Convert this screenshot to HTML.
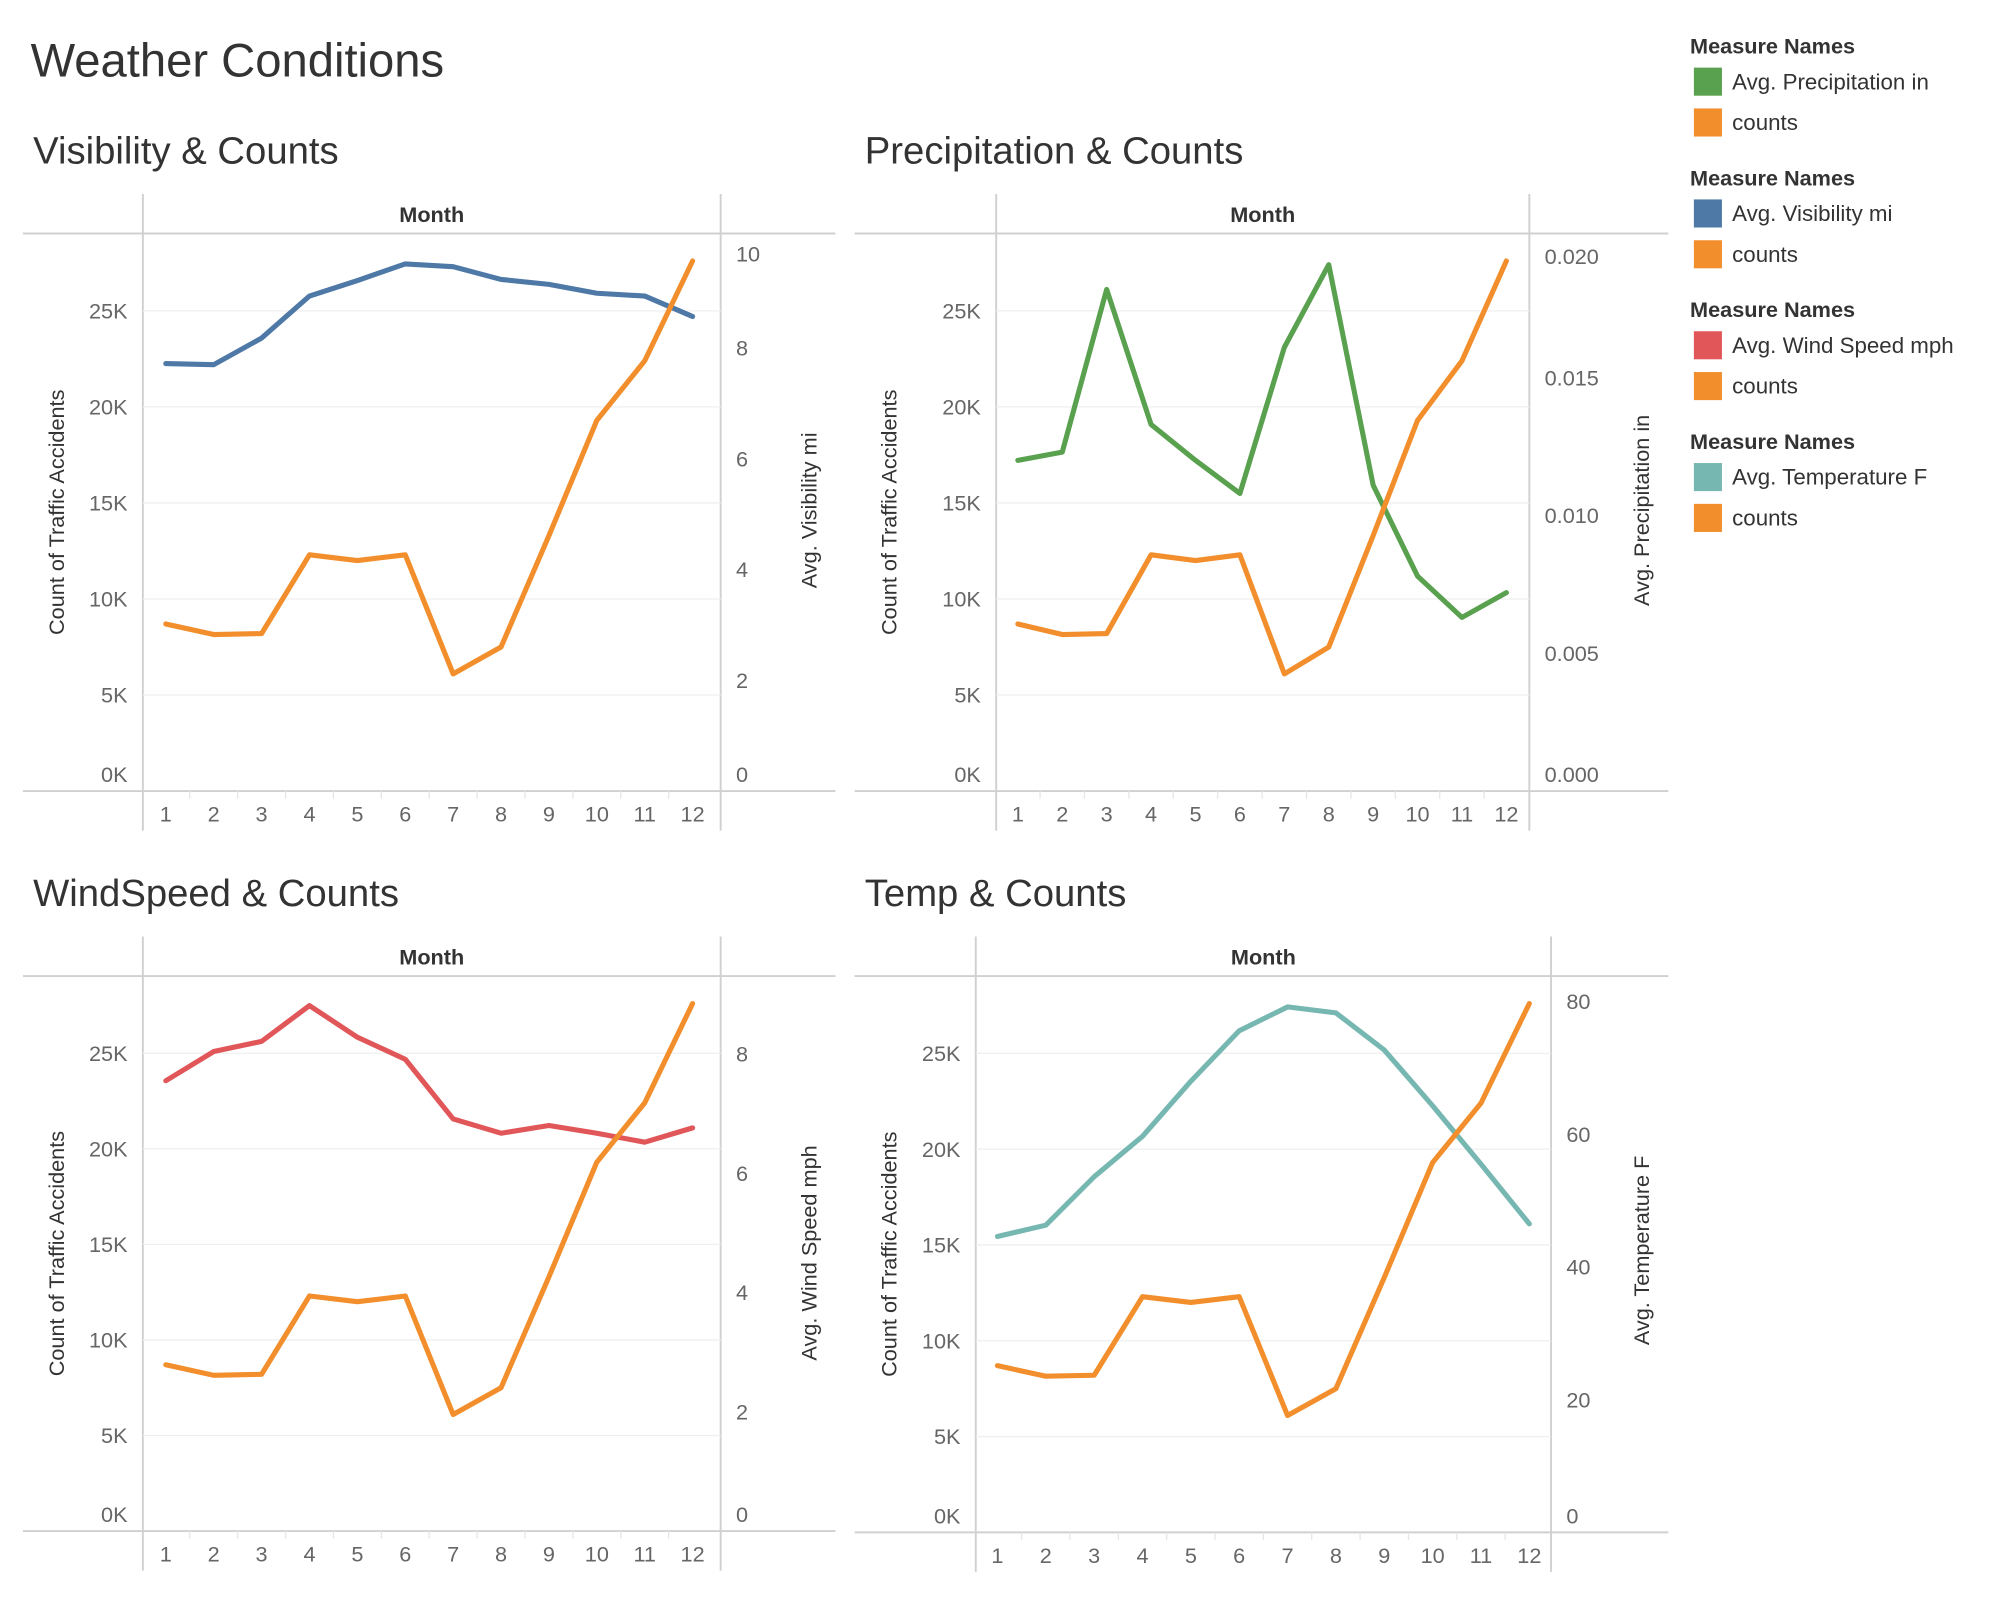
<!DOCTYPE html>
<html><head><meta charset="utf-8"><style>
html,body{margin:0;padding:0;background:#fff;}
svg{display:block;font-family:"Liberation Sans",sans-serif;}
</style></head><body>
<svg id="chart" width="2000" height="1600" viewBox="0 0 1568 1254" preserveAspectRatio="none" xmlns="http://www.w3.org/2000/svg">
<text x="24" y="60" font-size="37" fill="#333">Weather Conditions</text>
</svg>
<script>
const months = [1,2,3,4,5,6,7,8,9,10,11,12];
const counts = [8700,8150,8200,12300,12000,12300,6100,7500,13300,19300,22400,27600];
const visibility = [7.72,7.70,8.18,8.94,9.22,9.52,9.47,9.24,9.15,8.99,8.94,8.57];
const precipitation = [0.0120,0.0123,0.0182,0.0133,0.0120,0.0108,0.0161,0.0191,0.0111,0.0078,0.0063,0.0072];
const windSpeed = [7.55,8.04,8.21,8.81,8.28,7.91,6.91,6.67,6.80,6.67,6.52,6.76];
const temperature = [44.6,46.3,53.6,59.7,68.0,75.6,79.2,78.3,72.7,64.3,55.5,46.5];
const countTicks = [0,5000,10000,15000,20000,25000];
const countTickLabels = ["0K","5K","10K","15K","20K","25K"];
const visTicks = [0,2,4,6,8,10];
const precTicks = [0,0.005,0.01,0.015,0.02];
const precTickLabels = ["0.000","0.005","0.010","0.015","0.020"];
const windTicks = [0,2,4,6,8];
const tempTicks = [0,20,40,60,80];

const NS = "http://www.w3.org/2000/svg";
const svg = document.getElementById('chart');
function mk(tag, attrs, parent, text){
  const e = document.createElementNS(NS, tag);
  for (const k in attrs) e.setAttribute(k, attrs[k]);
  if (text !== undefined) e.textContent = text;
  (parent || svg).appendChild(e);
  return e;
}

function panel(cfg){
  const g = mk('g', {});
  
  
  const t = mk('text', {x: cfg.titleX, y: cfg.top - 55, 'font-size': 30, fill: '#333'}, g, cfg.title);
  
  
  const L = cfg.left, R = cfg.right, T = cfg.top, B = cfg.bottom;
  const yC = v => B - v / 27500 * (B - cfg.y275);
  const yR = v => B - v / cfg.rMax * (B - cfg.yRMax);
  const xM = m => cfg.x1 + (m - 1) * (cfg.x12 - cfg.x1) / 11;
  [[cfg.outL, T, cfg.outR, T], [cfg.outL, B, cfg.outR, B], [L, T - 31, L, B + 31], [R, T - 31, R, B + 31]].forEach(a => {
    const l = mk('line', {x1: a[0], y1: a[1], x2: a[2], y2: a[3], stroke: '#d0d0d0', 'stroke-width': 1.5}, g);
    
    
  });
  const mh = mk('text', {x: (L + R) / 2, y: T - 9, 'font-size': 17, fill: '#333', 'text-anchor': 'middle', 'font-weight': 'bold'}, g, 'Month');
  
  
  countTicks.forEach((v, i) => {
    const y = yC(v);
    if (v > 0) {
      const gl = mk('line', {x1: L, x2: R, y1: y, y2: y, stroke: '#efefef', 'stroke-width': 1}, g);
      
      
    }
    const tl = mk('text', {x: L - 12, y: (v === 0 ? y - 13 : y) + 6, 'font-size': 17, fill: '#666', 'text-anchor': 'end'}, g, countTickLabels[i]);
    
    
  });
  const lt = mk('text', {transform: `translate(${cfg.lTitleX},${(T + B) / 2}) rotate(-90)`, 'font-size': 17, fill: '#333', 'text-anchor': 'middle'}, g, 'Count of Traffic Accidents');
  
  
  cfg.rTicks.forEach((v, i) => {
    const y = yR(v);
    let ty = y + 6;
    if (i === 0) ty = y - 7;
    if (i === cfg.rTicks.length - 1 && cfg.shiftTop) ty = y + 19;
    const tl = mk('text', {x: R + 12, y: ty, 'font-size': 17, fill: '#666'}, g, cfg.rLabels ? cfg.rLabels[i] : String(v));
    
    
  });
  const rt = mk('text', {transform: `translate(${cfg.rTitleX},${cfg.rTitleY}) rotate(-90)`, 'font-size': 17, fill: '#333', 'text-anchor': 'middle'}, g, cfg.rTitle);
  
  
  months.forEach(m => {
    const x = xM(m);
    const tl = mk('text', {x: x, y: B + 24, 'font-size': 17, fill: '#666', 'text-anchor': 'middle'}, g, String(m));
    
    
    if (m > 1) {
      const sx = x - (cfg.x12 - cfg.x1) / 22;
      const s = mk('line', {x1: sx, x2: sx, y1: B, y2: B + 6, stroke: '#e6e6e6', 'stroke-width': 1}, g);
      
      
    }
  });
  const pm = mk('polyline', {points: cfg.series.map((v, i) => xM(months[i]) + ',' + yR(v)).join(' '), fill: 'none', stroke: cfg.color, 'stroke-width': 4, 'stroke-linejoin': 'round', 'stroke-linecap': 'round'}, g);
  
  
  const pc = mk('polyline', {points: counts.map((v, i) => xM(months[i]) + ',' + yC(v)).join(' '), fill: 'none', stroke: '#f28e2b', 'stroke-width': 4, 'stroke-linejoin': 'round', 'stroke-linecap': 'round'}, g);
  
  
}

panel({name: 'visibility', title: 'Visibility & Counts', titleX: 26, left: 112, right: 565, top: 183, bottom: 620, outL: 18, outR: 655,
  y275: 206, x1: 130, x12: 543, rMax: 10, yRMax: 186, rTicks: visTicks, shiftTop: true, series: visibility, color: '#4e79a7',
  rTitle: 'Avg. Visibility mi', rTitleX: 640, rTitleY: 400, lTitleX: 50});
panel({name: 'precipitation', title: 'Precipitation & Counts', titleX: 678, left: 781, right: 1199, top: 183, bottom: 620, outL: 670, outR: 1308,
  y275: 206, x1: 798, x12: 1181, rMax: 0.02, yRMax: 188, rTicks: precTicks, rLabels: precTickLabels, shiftTop: true, series: precipitation, color: '#59a14f',
  rTitle: 'Avg. Precipitation in', rTitleX: 1293, rTitleY: 400, lTitleX: 703});
panel({name: 'wind-speed', title: 'WindSpeed & Counts', titleX: 26, left: 112, right: 565, top: 765, bottom: 1200, outL: 18, outR: 655,
  y275: 788, x1: 130, x12: 543, rMax: 8, yRMax: 826, rTicks: windTicks, series: windSpeed, color: '#e15759',
  rTitle: 'Avg. Wind Speed mph', rTitleX: 640, rTitleY: 982, lTitleX: 50});
panel({name: 'temperature', title: 'Temp & Counts', titleX: 678, left: 765, right: 1216, top: 765, bottom: 1201, outL: 670, outR: 1308,
  y275: 788, x1: 782, x12: 1199, rMax: 80, yRMax: 785, rTicks: tempTicks, series: temperature, color: '#76b7b2',
  rTitle: 'Avg. Temperature F', rTitleX: 1293, rTitleY: 980, lTitleX: 703});

const legendItems = [['Avg. Precipitation in', '#59a14f'], ['Avg. Visibility mi', '#4e79a7'], ['Avg. Wind Speed mph', '#e15759'], ['Avg. Temperature F', '#76b7b2']];
legendItems.forEach((it, i) => {
  const y0 = 36 + i * 103.3;
  const g = mk('g', {});
  
  
  const h = mk('text', {x: 1325, y: y0 + 6, 'font-size': 17, 'font-weight': 'bold', fill: '#333'}, g, 'Measure Names');
  
  
  [[it[0], it[1], 28], ['counts', '#f28e2b', 60]].forEach(e => {
    const s = mk('rect', {x: 1328, y: y0 + e[2] - 11, width: 22, height: 22, fill: e[1]}, g);
    
    
    const t = mk('text', {x: 1358, y: y0 + e[2] + 6, 'font-size': 17.5, fill: '#333'}, g, e[0]);
    
    
  });
});
</script>
</body></html>
